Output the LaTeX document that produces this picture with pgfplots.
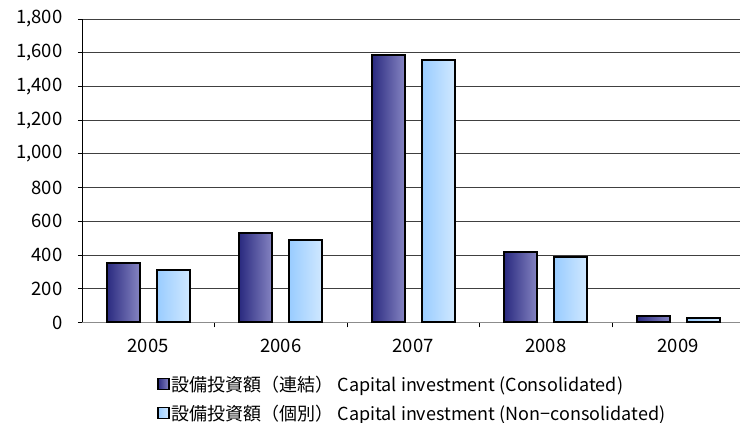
\documentclass[border=0pt]{standalone}
\usepackage{pgfplots}
\pgfplotsset{compat=1.18}
\usepackage{fontspec}
\setmainfont{Noto Sans CJK JP}
\definecolor{consA}{HTML}{2A2A80}
\definecolor{consB}{HTML}{8584C2}
\definecolor{nonA}{HTML}{99CCFF}
\definecolor{nonB}{HTML}{D0E8FF}
\definecolor{gridc}{HTML}{404040}
\pgfplotsset{
  consbar/.style={ybar, bar width=33pt, bar shift=-25pt, draw=none,
    left color=consA, right color=consB},
  nonbar/.style={ybar, bar width=33pt, bar shift=25pt, draw=none,
    left color=nonA, right color=nonB},
}
\begin{document}
\begin{tikzpicture}[x=1pt,y=1pt]
\useasboundingbox (0,0) rectangle (740,423);
\begin{axis}[
  at={(82pt,100.5pt)}, anchor=south west,
  scale only axis, width=662.5pt, height=303.5pt,
  xmin=-0.5, xmax=4.5, ymin=0, ymax=1800,
  axis x line=bottom, axis y line=left,
  axis line style={-, line width=0.8pt},
  x axis line style={draw=gray!90},
  ytick={0,200,...,1800},
  ymajorgrids, grid style={gridc, line width=0.8pt},
  xtick={0,1,2,3,4}, xticklabels={2005,2006,2007,2008,2009},
  major x tick style={draw=none},
  minor xtick={0.5,1.5,2.5,3.5},
  minor x tick style={draw=black, line width=0.8pt},
  minor tick length=5pt,
  tick align=outside,
  major tick length=4pt,
  y tick style={black, line width=0.8pt},
  yticklabel style={xshift=-12pt},
  xticklabel style={yshift=-9pt},
  /pgf/number format/assume math mode=true,
  /pgf/number format/1000 sep={,},
  tick label style={font=\fontsize{18.5}{22}\selectfont},
  legend style={draw=none, fill=none, at={(0.113,-0.168)}, anchor=north west,
    font=\fontsize{18}{22}\selectfont, row sep=8pt, inner sep=0pt,
    /tikz/every even column/.style={column sep=4pt}},
  legend cell align=left,
  legend image code/.code={\draw[#1] (0pt,-5.5pt) rectangle (11pt,5.5pt);
    \draw[black, line width=1.6pt] (0pt,-5.5pt) rectangle (11pt,5.5pt);},
]
\addplot[consbar] coordinates {(0,355)};
\addlegendentry{設備投資額（連結） Capital investment (Consolidated)}
\addplot[nonbar] coordinates {(0,311)};
\addlegendentry{設備投資額（個別） Capital investment (Non−consolidated)}
\addplot[consbar, forget plot] coordinates {(1,532)};
\addplot[consbar, forget plot] coordinates {(2,1585)};
\addplot[consbar, forget plot] coordinates {(3,418)};
\addplot[consbar, forget plot] coordinates {(4,40)};
\addplot[nonbar, forget plot] coordinates {(1,492)};
\addplot[nonbar, forget plot] coordinates {(2,1557)};
\addplot[nonbar, forget plot] coordinates {(3,391)};
\addplot[nonbar, forget plot] coordinates {(4,28)};
% borders
\addplot[ybar, bar width=33pt, bar shift=-25pt, fill=none, draw=black, line width=2pt, forget plot]
  coordinates {(0,355) (1,532) (2,1585) (3,418) (4,40)};
\addplot[ybar, bar width=33pt, bar shift=25pt, fill=none, draw=black, line width=2pt, forget plot]
  coordinates {(0,311) (1,492) (2,1557) (3,391) (4,28)};
\end{axis}
\end{tikzpicture}
\end{document}
